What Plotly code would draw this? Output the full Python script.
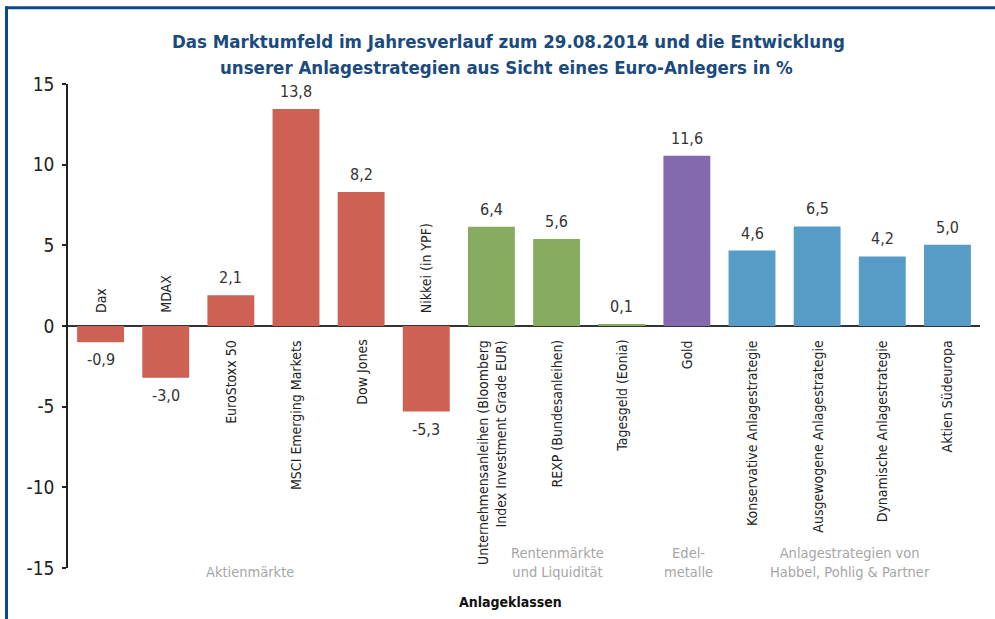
import plotly.graph_objects as go

# ---- data ----
categories = ["Dax", "MDAX", "EuroStoxx 50", "MSCI Emerging Markets", "Dow Jones",
              "Nikkei (in YPF)",
              "Unternehmensanleihen (Bloomberg<br>Index Investment Grade EUR)",
              "REXP (Bundesanleihen)", "Tagesgeld (Eonia)", "Gold",
              "Konservative Anlagestrategie", "Ausgewogene Anlagestrategie",
              "Dynamische Anlagestrategie", "Aktien Südeuropa"]
bar_values = [-1.0, -3.2, 1.9, 13.45, 8.3, -5.3, 6.15, 5.4, 0.1, 10.55, 4.68, 6.17, 4.31, 5.03]
value_labels = ["-0,9", "-3,0", "2,1", "13,8", "8,2", "-5,3", "6,4", "5,6", "0,1", "11,6",
                "4,6", "6,5", "4,2", "5,0"]
groups = ["Aktienmärkte"] * 6 + ["Renten"] * 3 + ["Edel"] + ["Strat"] * 4
group_colors = {"Aktienmärkte": "#CD6154", "Renten": "#88AC5F", "Edel": "#8369AD", "Strat": "#579CC7"}
group_labels = ["Aktienmärkte", "Rentenmärkte<br>und Liquidität", "Edel-<br>metalle",
                "Anlagestrategien von<br>Habbel, Pohlig & Partner"]
group_label_pos = [2.3, 7.02, 9.02, 11.5]
y_ticks = [-15, -10, -5, 0, 5, 10, 15]

title_lines = ["Das Marktumfeld im Jahresverlauf zum 29.08.2014 und die Entwicklung",
               "unserer Anlagestrategien aus Sicht eines Euro-Anlegers in %"]

FONT = "Liberation Sans Narrow, DejaVu Sans Condensed, Arial Narrow, sans-serif"

W, H = 995, 619
L, R, T, B = 68, 15, 84.3, 50.5
PW = W - L - R
PH = H - T - B


def pxx(p):
    return (p - L) / PW


def pyy(p):
    return (H - B - p) / PH


colors = [group_colors[g] for g in groups]
xs = list(range(len(categories)))

fig = go.Figure()
fig.add_trace(go.Bar(x=xs, y=bar_values, marker=dict(color=colors, line=dict(width=0)),
                     hoverinfo="skip", showlegend=False))

ann = []
for i, (v, lab, cat) in enumerate(zip(bar_values, value_labels, categories)):
    ann.append(dict(x=i, y=v, xref="x", yref="y", text=lab, showarrow=False,
                    yanchor="bottom" if v >= 0 else "top",
                    yshift=6 if v >= 0 else -6,
                    font=dict(family=FONT, size=16, color="#333333")))
    ann.append(dict(x=i, y=0, xref="x", yref="y", text=cat, showarrow=False,
                    textangle=-90, align="right",
                    yanchor="top" if v >= 0 else "bottom",
                    yshift=-12 if v >= 0 else 11,
                    font=dict(family=FONT, size=14, color="#222222")))

for lab, pos in zip(group_labels, group_label_pos):
    ann.append(dict(x=pos, y=pyy(583), xref="x", yref="paper", text=lab, showarrow=False,
                    yanchor="bottom", align="center",
                    font=dict(family=FONT, size=14.5, color="#A6A6A6")))

ann.append(dict(x=pxx(510), y=pyy(603), xref="paper", yref="paper",
                text="<b>Anlageklassen</b>", showarrow=False, yanchor="middle",
                font=dict(family=FONT, size=14, color="#111111")))

for line, yc, xc in zip(title_lines, [42, 68], [508, 506]):
    ann.append(dict(x=pxx(xc), y=pyy(yc), xref="paper", yref="paper",
                    text="<b>" + line + "</b>", showarrow=False,
                    xanchor="center", yanchor="middle",
                    font=dict(family=FONT, size=18.5, color="#1A4A7E")))

shapes = [
    dict(type="line", xref="paper", yref="paper", x0=pxx(6), x1=pxx(W + 5),
         y0=pyy(8), y1=pyy(8), line=dict(color="#0E4A85", width=3)),
    dict(type="line", xref="paper", yref="paper", x0=pxx(6.5), x1=pxx(6.5),
         y0=pyy(6.5), y1=pyy(H + 5), line=dict(color="#0E4A85", width=3)),
]

fig.update_layout(
    width=W, height=H,
    margin=dict(l=L, r=R, t=T, b=B, pad=0),
    paper_bgcolor="white", plot_bgcolor="white",
    bargap=0.28,
    xaxis=dict(range=[-0.5, len(categories) - 0.5], showticklabels=False, showgrid=False,
               zeroline=False, showline=False, ticks=""),
    yaxis=dict(range=[-15, 15], tickvals=y_ticks, ticktext=[str(t) for t in y_ticks],
               showgrid=False, zeroline=True, zerolinecolor="#333333", zerolinewidth=2,
               showline=True, linecolor="#222222", linewidth=1.5,
               ticks="outside", ticklen=4, tickcolor="#222222", tickwidth=1.5,
               ticklabelstandoff=4,
               tickfont=dict(family=FONT, size=19, color="#222222")),
    annotations=ann, shapes=shapes,
)

fig.write_html("out.html")
